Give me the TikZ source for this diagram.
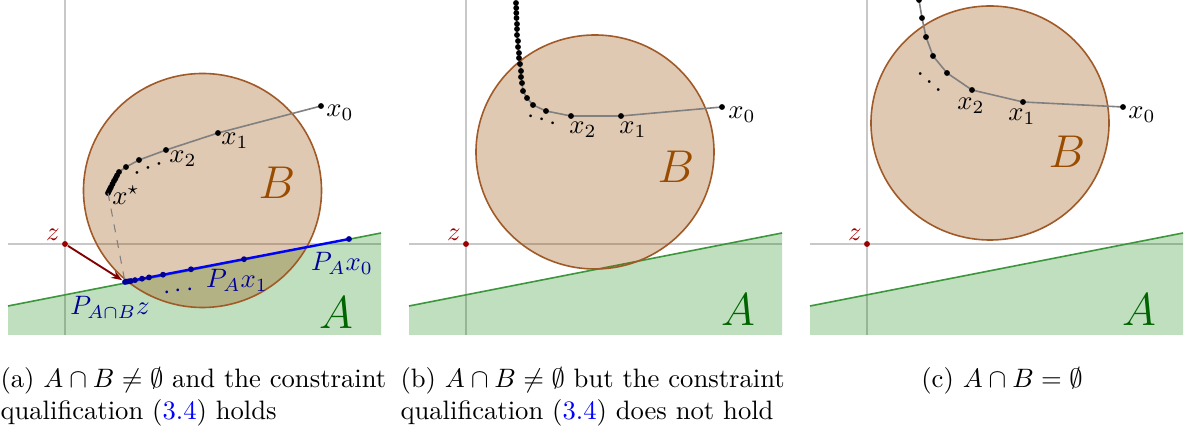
\documentclass[tikz,border=0pt]{standalone}
\usepackage{amsmath,amssymb}
\usetikzlibrary{arrows.meta}

\definecolor{setA}{RGB}{0,128,0}
\definecolor{setAline}{RGB}{60,150,60}
\definecolor{setAtext}{RGB}{0,100,0}
\definecolor{setB}{RGB}{153,76,0}
\definecolor{setBline}{RGB}{160,90,40}
\definecolor{zred}{RGB}{153,0,0}
\definecolor{projblue}{RGB}{0,0,150}
\definecolor{axisgray}{RGB}{200,200,200}

\begin{document}
\begin{tikzpicture}[
  x=0.0132cm, y=-0.0132cm,
  axis/.style={draw=axisgray, line width=0.6pt},
  regionA/.style={fill=setA, fill opacity=0.25},
  borderA/.style={draw=setAline, line width=0.6pt},
  setBdisk/.style={draw=setBline, line width=0.6pt, fill=setB, fill opacity=0.3},
  pt/.style={circle, fill=black, inner sep=0pt, minimum size=2.2pt},
  bpt/.style={circle, fill=projblue, inner sep=0pt, minimum size=2.2pt},
  zpt/.style={circle, fill=zred, inner sep=0pt, minimum size=2.2pt},
  iter/.style={draw=gray, line width=0.6pt},
  proj/.style={draw=blue, line width=0.9pt},
  lbl/.style={inner sep=0.5pt},
  bigA/.style={font=\LARGE, text=setAtext, inner sep=0pt},
  bigB/.style={font=\LARGE, text=setB, inner sep=0pt},
  captext/.style={align=left, inner sep=0pt, anchor=north west}
]
\useasboundingbox (0,0) rectangle (1186,427);

% common background of the three panels: axes, set A, point z
\foreach \dx/\p/\cx/\cy in {0/a/202.5/190.5, 401/b/194/152, 802/c/188/123}{
  \begin{scope}[shift={(\dx,0)}]
    \draw[axis] (8,244) -- (381,244);
    \draw[axis] (65,0) -- (65,335);
    \fill[regionA] (8,306) -- (381,233) -- (381,335) -- (8,335) -- cycle;
    \draw[borderA] (8,306) -- (381,233);
    \draw[setBdisk] (\cx,\cy) ellipse [x radius=119, y radius=117];
    \node[zpt] (z\p) at (65,244) {};
    \node[lbl, text=zred] (zlbl\p) at (53,235) {$z$};
  \end{scope}
}

% (a) A and B intersect, qualification holds
\foreach \px/\py [count=\i from 0] in {321/106, 218/133, 166/150, 139/160, 126/167,
    119/172, 117/175.5, 115.5/178.5, 114/181, 112.5/184, 111/187, 110/189, 109/191, 108/193}
  \coordinate (xa\i) at (\px,\py);
\foreach \i [remember=\i as \j (initially 0)] in {1,...,13}
  \draw[iter] (xa\j) -- (xa\i);
\foreach \i in {0,...,13}
  \node[pt] (dxa\i) at (xa\i) {};
\foreach \px/\py [count=\i from 0] in {349/239, 244/259.2, 191/269.3, 163/274.7, 149/277.4,
    142/278.7, 135/280.1, 131/281, 129/281.3, 127/281.6, 125/282}
  \coordinate (pxa\i) at (\px,\py);
\draw[gray, dashed, line width=0.4pt] (xa13) -- (pxa10);
\draw[proj] (pxa0) -- (pxa10);
\foreach \i in {0,...,10}
  \node[bpt] (dpxa\i) at (pxa\i) {};
\draw[-{Stealth[length=4pt]}, draw=zred!85!black, fill=zred!85!black, line width=0.7pt] (za) -- (dpxa10);
\node[lbl] (x0a) at (340,113) {$x_0$};
\node[lbl] (x1a) at (235,141) {$x_1$};
\node[lbl] (x2a) at (183,159) {$x_2$};
\node[lbl] (xsa) at (126,195) {$x^\star$};
\node[lbl, rotate=22] (dotsa) at (151,168) {$\cdots$};
\node[lbl, text=projblue] (px0a) at (342,263) {$P_Ax_0$};
\node[lbl, text=projblue] (px1a) at (237,280) {$P_Ax_1$};
\node[lbl, text=projblue] (pza) at (110,307) {$P_{A\cap B}z$};
\node[lbl, text=projblue, rotate=8] (pdotsa) at (181,291) {$\cdots$};
\node[bigB] (Ba) at (277,183) {$B$};
\node[bigA] (Aa) at (336,313) {$A$};

% (b) A and B touch, qualification fails
\foreach \px/\py [count=\i from 0] in {722/107, 621/116, 571/116, 546/111, 533/105, 527/98,
    523/91, 522/83, 521/77, 521/71, 520/64, 519/58, 519/53, 518/47, 518/41, 517/35,
    517/29, 517/24, 516.5/18, 516.3/13, 516.2/8, 516/3}
  \coordinate (xb\i) at (\px,\py);
\foreach \i [remember=\i as \j (initially 0)] in {1,...,21}
  \draw[iter] (xb\j) -- (xb\i);
\foreach \i in {0,...,21}
  \node[pt] (dxb\i) at (xb\i) {};
\node[lbl] (x0b) at (742,115) {$x_0$};
\node[lbl] (x1b) at (633,130) {$x_1$};
\node[lbl] (x2b) at (583,130) {$x_2$};
\node[lbl, rotate=-18] (dotsb) at (544,121) {$\cdots$};
\node[bigB] (Bb) at (676,167) {$B$};
\node[bigA] (Ab) at (738,310) {$A$};

% (c) A and B disjoint
\foreach \px/\py [count=\i from 0] in {1123/107, 1023/102, 972/90, 947/73, 933/56,
    926/37, 922/18, 919/0}
  \coordinate (xc\i) at (\px,\py);
\foreach \i [remember=\i as \j (initially 0)] in {1,...,7}
  \draw[iter] (xc\j) -- (xc\i);
\foreach \i in {0,...,7}
  \node[pt] (dxc\i) at (xc\i) {};
\node[lbl] (x0c) at (1142,115) {$x_0$};
\node[lbl] (x1c) at (1022,117) {$x_1$};
\node[lbl] (x2c) at (971,106) {$x_2$};
\node[inner sep=0pt, rotate=-42] (dotsc) at (931,84) {$\cdots$};
\node[bigB] (Bc) at (1067,152) {$B$};
\node[bigA] (Ac) at (1139,310) {$A$};

% captions
\node[captext] (capa) at (0,367) {(a) $A\cap B\neq\emptyset$ and the constraint\\
  qualification (\textcolor{blue}{3.4}) holds};
\node[captext] (capb) at (400,367) {(b) $A\cap B\neq\emptyset$ but the constraint\\
  qualification (\textcolor{blue}{3.4}) does not hold};
\node[captext, anchor=north] (capc) at (1002,367) {(c) $A\cap B=\emptyset$};
\end{tikzpicture}
\end{document}
